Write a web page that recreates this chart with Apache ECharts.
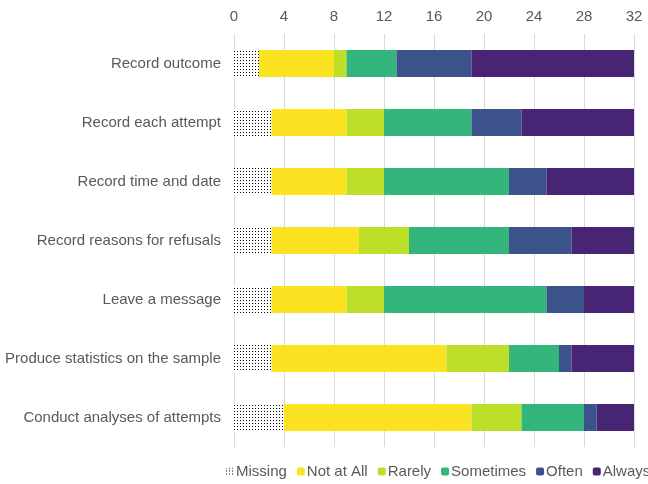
<!DOCTYPE html>
<html><head><meta charset="utf-8">
<script src="https://cdn.jsdelivr.net/npm/echarts@6/dist/echarts.min.js"></script>
<style>html,body{margin:0;padding:0;background:#fff}#c{width:648px;height:484px}</style>
</head><body><div id="c"></div>
<script>
const categories = ["Record outcome","Record each attempt","Record time and date","Record reasons for refusals","Leave a message","Produce statistics on the sample","Conduct analyses of attempts"];
const missing   = [2,3,3,3,3,3,4];
const notAtAll  = [6,6,6,7,6,14,15];
const rarely    = [1,3,3,4,3,5,4];
const sometimes = [4,7,10,8,13,4,5];
const often     = [6,4,3,5,3,1,1];
const always    = [13,9,7,5,4,5,3];
const xTicks = [0,4,8,12,16,20,24,28,32];

const font = 'Liberation Sans, Arial, sans-serif';
const dotDecal = {symbol:'rect', symbolSize:1, color:'#000', dashArrayX:[1,2], dashArrayY:[1,2], rotation:0};
function s(name, data, color, extra){
  return Object.assign({name, type:'bar', stack:'t', data, barWidth:27,
    itemStyle:{color}, emphasis:{disabled:true}}, extra||{});
}
const chart = echarts.init(document.getElementById('c'), null, {renderer:'canvas'});
chart.setOption({
  animation:false,
  aria:{enabled:false},
  grid:{left:234, right:14, top:34, bottom:37},
  xAxis:{type:'value', position:'top', min:xTicks[0], max:xTicks[xTicks.length-1], interval:4,
    axisLine:{show:false}, axisTick:{show:false},
    axisLabel:{color:'#595959', fontSize:15, fontFamily:font, margin:10},
    splitLine:{lineStyle:{color:'#d9d9d9', width:1}}},
  yAxis:{type:'category', inverse:true, data:categories,
    axisLine:{show:false}, axisTick:{show:false},
    axisLabel:{color:'#595959', fontSize:15, fontFamily:font, margin:13}},
  legend:{top:464, left:226, width:800, itemWidth:8, itemHeight:8, itemGap:10, padding:0,
    textStyle:{color:'#595959', fontSize:15, fontFamily:font, padding:[0,0,0,-3]},
    data:['Missing','Not at All','Rarely','Sometimes','Often','Always']},
  series:[
    s('Missing', missing, '#ffffff', {itemStyle:{color:'#ffffff', decal:dotDecal}}),
    s('Not at All', notAtAll, '#fbe322'),
    s('Rarely', rarely, '#bedf2a'),
    s('Sometimes', sometimes, '#33b57b'),
    s('Often', often, '#3c528b'),
    s('Always', always, '#472474')
  ]
});
</script></body></html>
